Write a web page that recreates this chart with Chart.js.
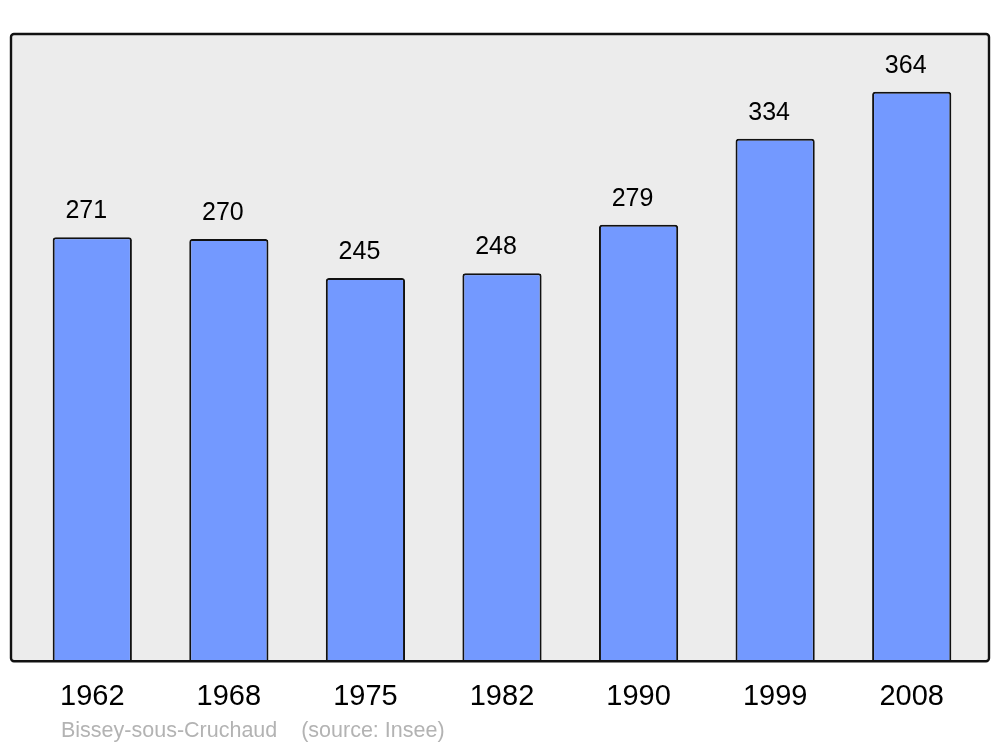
<!DOCTYPE html>
<html>
<head>
<meta charset="utf-8">
<script src="https://cdn.jsdelivr.net/npm/chart.js@4/dist/chart.umd.min.js"></script>
<style>
html,body{margin:0;padding:0;background:#fff;}
#wrap{width:1000px;height:747px;position:relative;}
</style>
</head>
<body>
<div id="wrap"><canvas id="c" width="1000" height="747"></canvas></div>
<script>
const years = ["1962","1968","1975","1982","1990","1999","2008"];
const population = [271,270,245,248,279,334,364];
const sourceText = "Bissey-sous-Cruchaud    (source: Insee)";

const framePlugin = {
  id:'frame',
  beforeDatasetsDraw(chart){
    const {ctx, chartArea} = chart;
    const x0 = 11, x1 = 989, y0 = chartArea.top, y1 = chartArea.bottom;
    ctx.save();
    ctx.beginPath();
    ctx.roundRect(x0, y0, x1-x0, y1-y0, 3);
    ctx.fillStyle = '#ececec';
    ctx.fill();
    ctx.restore();
  },
  afterDatasetsDraw(chart){
    const {ctx, chartArea} = chart;
    const x0 = 11, x1 = 989, y0 = chartArea.top, y1 = chartArea.bottom;
    ctx.save();
    ctx.beginPath();
    ctx.roundRect(x0, y0, x1-x0, y1-y0, 3);
    ctx.lineWidth = 2.4;
    ctx.strokeStyle = '#111';
    ctx.stroke();
    // value labels
    const meta = chart.getDatasetMeta(0);
    ctx.fillStyle = '#000';
    ctx.font = '25px "Liberation Sans", Arial, sans-serif';
    ctx.textAlign = 'center';
    ctx.textBaseline = 'alphabetic';
    meta.data.forEach((bar, i) => {
      ctx.fillText(String(population[i]), bar.x - 6, bar.y - 19);
    });
    // source
    ctx.fillStyle = '#b3b3b3';
    ctx.font = '21.5px "Liberation Sans", Arial, sans-serif';
    ctx.textAlign = 'left';
    ctx.fillText(sourceText, 61, 737);
    ctx.restore();
  }
};

new Chart(document.getElementById('c'), {
  type:'bar',
  data:{
    labels: years,
    datasets:[{
      data: population,
      backgroundColor:'#7399ff',
      borderColor:'#111',
      borderWidth:2,
      borderSkipped:'bottom',
      borderRadius:{topLeft:3, topRight:3, bottomLeft:0, bottomRight:0},
      barPercentage:0.58,
      categoryPercentage:1
    }]
  },
  options:{
    responsive:false,
    animation:false,
    devicePixelRatio:1,
    layout:{padding:{left:24, right:20, top:34, bottom:15}},
    plugins:{legend:{display:false}, tooltip:{enabled:false}},
    scales:{
      x:{
        grid:{display:false, drawTicks:false},
        border:{display:false},
        ticks:{color:'#000', font:{family:'"Liberation Sans", Arial, sans-serif', size:29}, padding:18, maxRotation:0}
      },
      y:{display:false, min:0, max:401}
    }
  },
  plugins:[framePlugin]
});
</script>
</body>
</html>
